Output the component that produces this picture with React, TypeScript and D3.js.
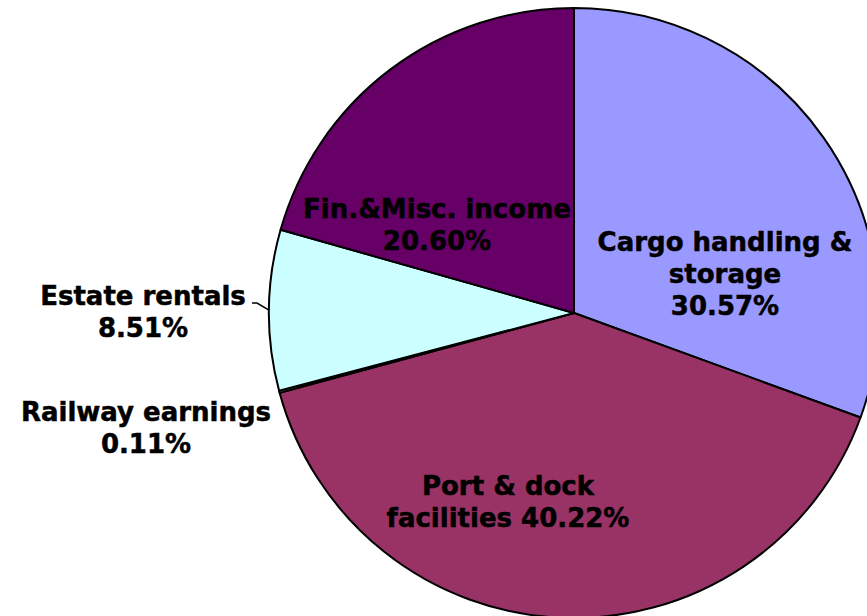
import React, { useEffect, useRef } from "react";
import * as d3 from "d3";

const categories = [
  "Cargo handling & storage",
  "Port & dock facilities",
  "Railway earnings",
  "Estate rentals",
  "Fin.&Misc. income",
];
const values = [30.57, 40.22, 0.11, 8.51, 20.6];
const colors = ["#9999FF", "#993366", "#FFFFCC", "#CCFFFF", "#660066"];

// label text lines ({p} = percent), label centre and first baseline
const labelLines = [
  ["Cargo handling &", "storage", "{p}"],
  ["Port & dock", "facilities {p}"],
  ["Railway earnings", "{p}"],
  ["Estate rentals", "{p}"],
  ["Fin.&Misc. income", "{p}"],
];
const labelPos = [
  [725, 251],
  [508, 495],
  [146, 421],
  [143, 305],
  [437, 218],
];

const W = 867;
const H = 616;
const cx = 574;
const cy = 313;
const R = 305;
const lineH = 32;

export default function App() {
  const ref = useRef<SVGSVGElement>(null);

  useEffect(() => {
    const svg = d3.select(ref.current);
    svg.selectAll("*").remove();

    const data = categories.map((c, i) => ({ name: c, value: values[i], i }));
    const pie = d3.pie<any>().sort(null).value((d) => d.value);
    const arcs = pie(data);
    const arc = d3.arc<any>().innerRadius(0).outerRadius(R);

    const g = svg.append("g").attr("transform", `translate(${cx},${cy})`);
    g.selectAll("path")
      .data(arcs)
      .join("path")
      .attr("d", arc)
      .attr("fill", (d) => colors[d.data.i])
      .attr("stroke", "#000")
      .attr("stroke-width", 2)
      .attr("stroke-linejoin", "round");

    // leader line for Estate rentals
    const est = arcs[3];
    const mid = (est.startAngle + est.endAngle) / 2;
    const ex = cx + R * Math.sin(mid);
    const ey = cy - R * Math.cos(mid);
    const [lx, ly] = labelPos[3];
    svg
      .append("polyline")
      .attr("points", `${ex},${ey} ${lx + 114},${ly - 2} ${lx + 109},${ly - 2}`)
      .attr("fill", "none")
      .attr("stroke", "#000")
      .attr("stroke-width", 1.5);

    const labels = svg
      .append("g")
      .attr("font-family", "'DejaVu Sans', Verdana, sans-serif")
      .attr("font-weight", "bold")
      .attr("font-size", 26)
      .attr("fill", "#000")
      .attr("stroke", "#000")
      .attr("stroke-width", 0.5)
      .attr("text-anchor", "middle");

    arcs.forEach((a, k) => {
      const pct = `${values[k].toFixed(2)}%`;
      const [x, y] = labelPos[k];
      const t = labels.append("text").attr("x", x).attr("y", y);
      labelLines[k].forEach((ln, j) => {
        t.append("tspan")
          .attr("x", x)
          .attr("y", y + j * lineH)
          .text(ln.replace("{p}", pct));
      });
    });
  }, []);

  return (
    <svg
      ref={ref}
      width={W}
      height={H}
      style={{ position: "absolute", left: 0, top: 0, background: "#fff" }}
    />
  );
}
